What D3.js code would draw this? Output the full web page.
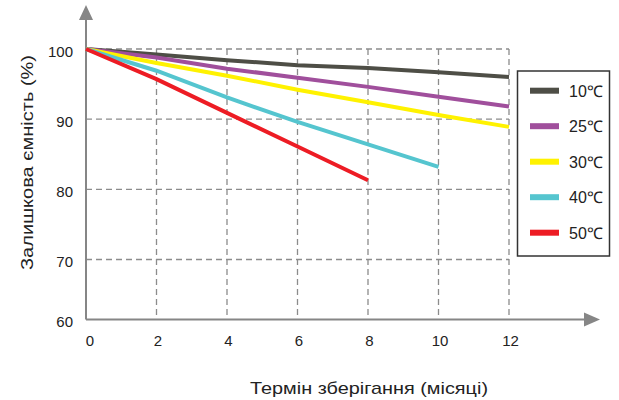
<!DOCTYPE html>
<html><head><meta charset="utf-8">
<script src="https://cdn.jsdelivr.net/npm/d3@7"></script>
<style>body{margin:0;background:#fff}svg{display:block}text{font-family:"Liberation Sans",Arial,sans-serif;fill:#222}</style>
</head><body>
<svg id="c" width="619" height="400"></svg>
<script>
const months = [0, 2, 4, 6, 8, 10, 12];
const yTicks = [60, 70, 80, 90, 100];
const seriesNames = ["10℃", "25℃", "30℃", "40℃", "50℃"];
const s10 = [100, 99.2, 98.4, 97.7, 97.3, 96.7, 96.0];
const s25 = [100, 98.8, 97.2, 95.9, 94.6, 93.2, 91.8];
const s30 = [100, 98.0, 96.2, 94.2, 92.4, 90.6, 88.9];
const s40 = [100, 96.9, 93.1, 89.6, 86.4, 83.2];
const s50 = [100, 95.7, 90.9, 86.1, 81.3];
const colors = ["#4e4e46", "#a04f9c", "#fff200", "#55c5cf", "#ed1c24"];
const xTitle = "Термін зберігання (місяці)";
const yTitle = "Залишкова ємність (%)";

const svg = d3.select("#c");
const x = d3.scaleLinear().domain([0, 12]).range([86, 509]);
const y = d3.scaleLinear().domain([60, 70, 100]).range([319.5, 259.5, 49]);
const grid = "#8c8c8c";

// grid
const g = svg.append("g");
g.selectAll(".hg").data(yTicks.slice(1)).join("line")
  .attr("x1", x(0)).attr("x2", x(12)).attr("y1", d => y(d)).attr("y2", d => y(d))
  .attr("stroke", grid).attr("stroke-width", 1.3).attr("stroke-dasharray", "6,4");
g.selectAll(".vg").data(months.slice(1)).join("line")
  .attr("x1", d => x(d)).attr("x2", d => x(d)).attr("y1", y(100)).attr("y2", y(60))
  .attr("stroke", grid).attr("stroke-width", 1.3).attr("stroke-dasharray", "6,4");

// axes
const axc = "#868686";
svg.append("line").attr("x1", x(0)).attr("x2", 586).attr("y1", y(60)).attr("y2", y(60))
  .attr("stroke", axc).attr("stroke-width", 2);
svg.append("line").attr("x1", x(0)).attr("x2", x(0)).attr("y1", y(60)).attr("y2", 18)
  .attr("stroke", axc).attr("stroke-width", 2);
svg.append("path").attr("d", `M${x(0)-7},20 L${x(0)},5 L${x(0)+7},20 Z`).attr("fill", axc);
svg.append("path").attr("d", `M584,${y(60)-7} L600,${y(60)} L584,${y(60)+7} Z`).attr("fill", axc);

// tick labels
svg.selectAll(".yt").data(yTicks).join("text")
  .attr("x", 73).attr("y", d => y(d) + 7.5).attr("text-anchor", "end")
  .attr("font-size", 15).text(d => d);
svg.selectAll(".xt").data(months).join("text")
  .attr("x", d => x(d) + (d === 0 ? 4 : 1.5)).attr("y", 346).attr("text-anchor", "middle")
  .attr("font-size", 15).text(d => d);

// titles
svg.append("text").attr("x", 369).attr("y", 394).attr("text-anchor", "middle")
  .attr("font-size", 17).attr("textLength", 238).attr("lengthAdjust", "spacingAndGlyphs").text(xTitle);
svg.append("text").attr("transform", "translate(33,162.5) rotate(-90)").attr("text-anchor", "middle")
  .attr("font-size", 17).attr("textLength", 215).attr("lengthAdjust", "spacingAndGlyphs").text(yTitle);

// lines
const all = [s10, s25, s30, s40, s50];
const line = d3.line().x((d, i) => x(months[i])).y(d => y(d));
svg.selectAll(".ln").data(all).join("path")
  .attr("d", d => line(d)).attr("fill", "none")
  .attr("stroke", (d, i) => colors[i]).attr("stroke-width", 4);

// legend
svg.append("rect").attr("x", 517.5).attr("y", 71).attr("width", 92).attr("height", 185)
  .attr("fill", "#fff").attr("stroke", "#333").attr("stroke-width", 1.5);
const lg = svg.selectAll(".lg").data(seriesNames).join("g")
  .attr("transform", (d, i) => `translate(0,${90.7 + i * 35.5})`);
lg.append("rect").attr("x", 530).attr("y", -3).attr("width", 29).attr("height", 6)
  .attr("fill", (d, i) => colors[i]);
lg.append("text").attr("x", 569).attr("y", 6).attr("font-size", 16).text(d => d);
</script>
</body></html>
